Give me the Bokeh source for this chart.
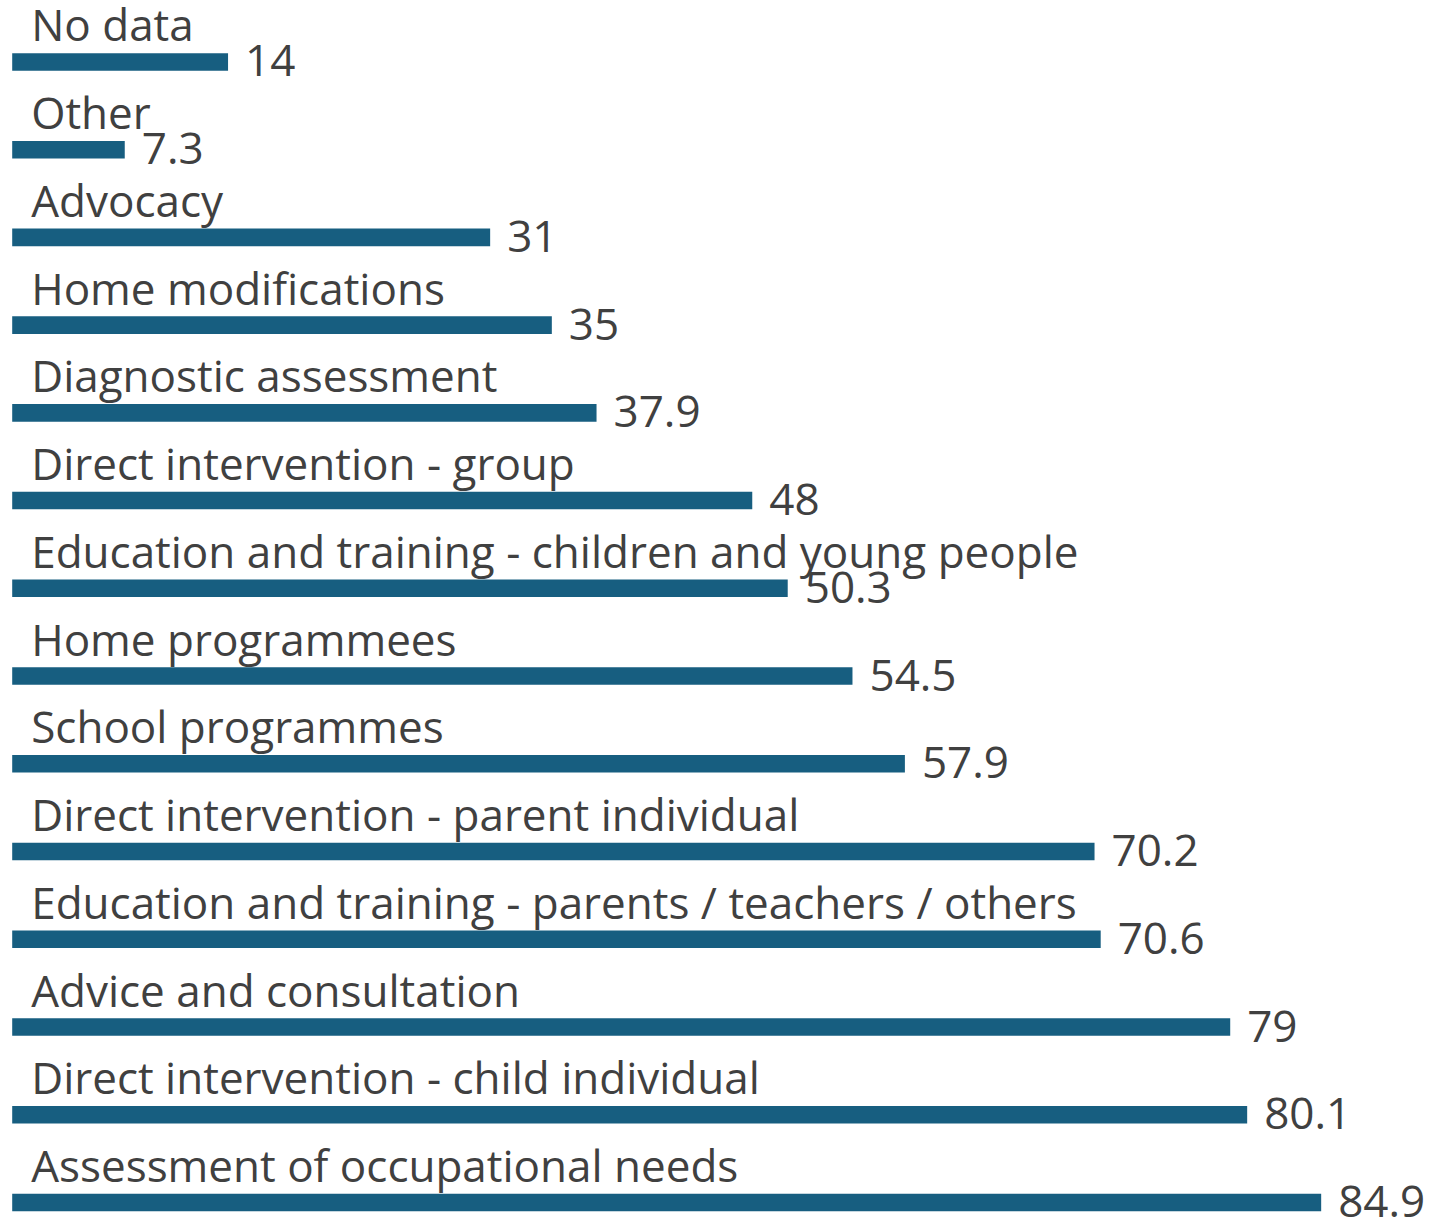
from bokeh.plotting import figure
from bokeh.models import ColumnDataSource, Range1d
from bokeh.core.properties import value
from bokeh.embed import file_html
from bokeh.resources import INLINE

categories = [
    "Assessment of occupational needs",
    "Direct intervention - child individual",
    "Advice and consultation",
    "Education and training - parents / teachers / others",
    "Direct intervention - parent individual",
    "School programmes",
    "Home programmees",
    "Education and training - children and young people",
    "Direct intervention - group",
    "Diagnostic assessment",
    "Home modifications",
    "Advocacy",
    "Other",
    "No data",
]
values = [84.9, 80.1, 79, 70.6, 70.2, 57.9, 54.5, 50.3, 48, 37.9, 35, 31, 7.3, 14]
value_labels = ["84.9", "80.1", "79", "70.6", "70.2", "57.9", "54.5", "50.3", "48", "37.9", "35", "31", "7.3", "14"]

W, H = 1434, 1219
pos = list(range(len(categories)))
src = ColumnDataSource(dict(y=pos, v=values, cat=categories, lab=value_labels))

p = figure(width=W, height=H, output_backend="svg", toolbar_location=None,
           x_range=Range1d(-0.759, 92.25), y_range=Range1d(-0.194, 13.70),
           min_border=0, outline_line_color=None)
p.axis.visible = False
p.grid.visible = False
p.background_fill_color = "white"
p.border_fill_color = "white"

p.hbar(y="y", left=0, right="v", height=0.2, source=src,
       fill_color="#175e80", line_color=None)

font = value("Open Sans")
p.text(x=0, y="y", text="cat", source=src, x_offset=19, y_offset=-37.5,
       text_baseline="alphabetic", text_align="left", text_font=font,
       text_font_size="44px", text_color="#404040")
p.text(x="v", y="y", text="lab", source=src, x_offset=17, y_offset=-1,
       text_baseline="alphabetic", text_align="left", text_font=font,
       text_font_size="44px", text_color="#404040")

open("out.html", "w").write(file_html(p, INLINE))
